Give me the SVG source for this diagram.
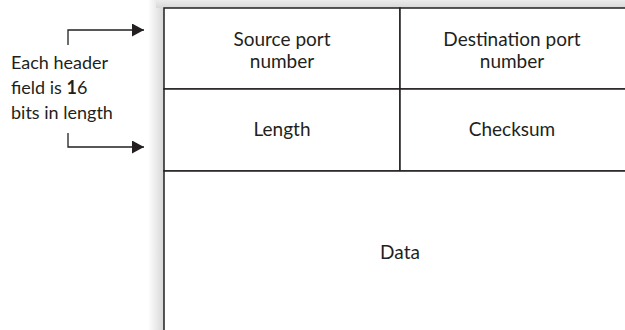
<svg xmlns="http://www.w3.org/2000/svg" width="625" height="330" viewBox="0 0 625 330">
  <defs>
    <linearGradient id="shadeLeft" x1="0" y1="0" x2="1" y2="0">
      <stop offset="0" stop-color="#ffffff"/>
      <stop offset="1" stop-color="#d6d6d6"/>
    </linearGradient>
    <linearGradient id="shadeTop" x1="0" y1="0" x2="0" y2="1">
      <stop offset="0" stop-color="#ececec"/>
      <stop offset="1" stop-color="#d8d8d8"/>
    </linearGradient>
    <marker id="arrow" viewBox="0 0 12 13" refX="12" refY="6.5" markerWidth="12" markerHeight="13" markerUnits="userSpaceOnUse" orient="auto">
      <path d="M0,0 L12,6.5 L0,13 Z" fill="#231f20"/>
    </marker>
  </defs>
  <style>
    .lbl { font-family: "Lato", "Liberation Sans", sans-serif; font-size: 19px; fill: #231f20; }
    .note { font-size: 18px; }
    .mid { text-anchor: middle; }
    .cell { fill: #ffffff; stroke: #231f20; stroke-width: 1.5; }
    .conn { fill: none; stroke: #231f20; stroke-width: 1.3; }
  </style>

  <rect width="625" height="330" fill="#ffffff"/>

  <!-- drop shadow round the header block -->
  <rect x="148" y="0" width="16" height="330" fill="url(#shadeLeft)"/>
  <rect x="156" y="0" width="469" height="8" fill="url(#shadeTop)"/>

  <g id="src-port">
    <rect class="cell" x="164" y="8" width="236" height="81"/>
    <text class="lbl mid" x="282" y="46">Source port</text>
    <text class="lbl mid" x="282" y="68">number</text>
  </g>
  <g id="dst-port">
    <rect class="cell" x="400" y="8" width="230" height="81"/>
    <text class="lbl mid" x="512" y="46">Destination port</text>
    <text class="lbl mid" x="512" y="68">number</text>
  </g>
  <g id="length">
    <rect class="cell" x="164" y="89" width="236" height="82"/>
    <text class="lbl mid" x="282" y="136">Length</text>
  </g>
  <g id="checksum">
    <rect class="cell" x="400" y="89" width="230" height="82"/>
    <text class="lbl mid" x="512" y="136">Checksum</text>
  </g>
  <g id="data">
    <rect class="cell" x="164" y="171" width="466" height="170"/>
    <text class="lbl mid" x="400" y="259">Data</text>
  </g>

  <g id="note">
    <text class="lbl note" x="11" y="69">Each header</text>
    <text class="lbl note" x="11" y="94">field is <tspan font-weight="bold">1</tspan>6</text>
    <text class="lbl note" x="11" y="119">bits in length</text>
  </g>

  <g id="connectors">
    <path class="conn" d="M68,45 V30 H144" marker-end="url(#arrow)"/>
    <path class="conn" d="M68,133 V147 H144" marker-end="url(#arrow)"/>
  </g>
</svg>
